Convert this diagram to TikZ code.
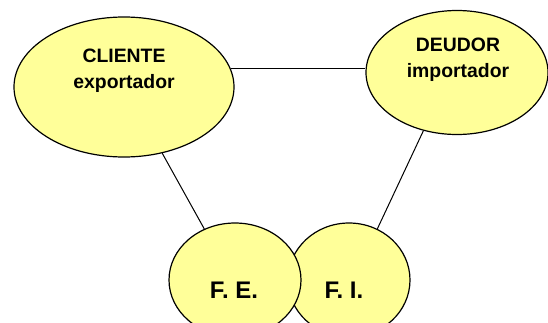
\documentclass[tikz,border=0pt]{standalone}
\usepackage{fontspec}
\setmainfont{Liberation Sans}
\usetikzlibrary{shapes.geometric}
\definecolor{pale}{RGB}{255,255,153}
\begin{document}
\begin{tikzpicture}[x=1pt, y=-1pt,
        blob/.style={ellipse, draw, fill=pale, line width=1.2pt, inner sep=0pt},
        txt/.style={align=center, font=\bfseries\fontsize{19.4}{26}\selectfont},
        bigtxt/.style={font=\bfseries\fontsize{24}{28}\selectfont}]
            \useasboundingbox (0,0) rectangle (548,322);
            \node[blob, minimum width=220pt, minimum height=140pt] (cli) at (124, 87) {};
            \node[blob, minimum width=182pt, minimum height=124pt] (deu) at (457, 72.5) {};
            \node[blob, minimum width=122pt, minimum height=114pt] (fi) at (349, 280) {};
            \node[blob, minimum width=132pt, minimum height=114pt] (fe) at (235, 280) {};
            \node[txt] (clitxt) at (124, 71) {CLIENTE\\exportador};
            \node[txt] (deutxt) at (458, 60) {DEUDOR\\importador};
            \node[bigtxt] (fetxt) at (234, 290) {F. E.};
            \node[bigtxt] (fitxt) at (344, 290) {F. I.};
            \draw[line width=1pt] (cli.10) -- (cli.10 -| deu.west);
            \draw[line width=1pt] (cli.-60) -- (fe.121);
            \draw[line width=1pt] (deu.-120) -- (fi.61);
        \end{tikzpicture}
\end{document}
